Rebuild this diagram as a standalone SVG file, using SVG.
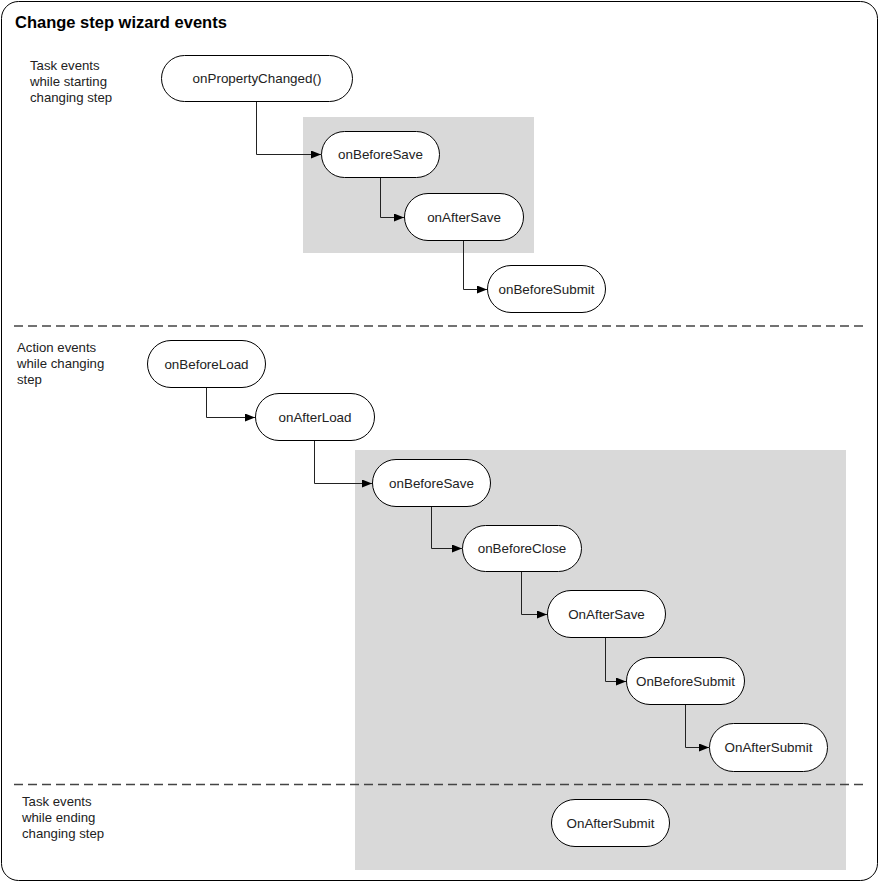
<svg xmlns="http://www.w3.org/2000/svg" width="879" height="882" viewBox="0 0 879 882">
<defs>
<marker id="arr" markerWidth="10" markerHeight="8" refX="10" refY="4" orient="auto" markerUnits="userSpaceOnUse">
<path d="M0,0 L10,4 L0,8 z" fill="#000"/>
</marker>
<style>
.node rect{fill:#fff;stroke:#000;stroke-width:1}
.node text{font-family:"Liberation Sans",Arial,sans-serif;font-size:13.4px;fill:#222;text-anchor:middle}
.lbl{font-family:"Liberation Sans",Arial,sans-serif;font-size:13.2px;fill:#222}
.title{font-family:"Liberation Sans",Arial,sans-serif;font-size:16.5px;font-weight:bold;fill:#000}
.conn path{fill:none;stroke:#222;stroke-width:1;marker-end:url(#arr)}
.dash{stroke:#444;stroke-width:1.5;stroke-dasharray:9,5;fill:none}
.group{fill:#d9d9d9}
</style>
</defs>
<rect x="0" y="0" width="879" height="882" fill="#fff"/>
<rect id="frame" x="1.5" y="1.5" width="876" height="879" rx="17" ry="17" fill="#fff" stroke="#000" stroke-width="1"/>
<text class="title" x="15" y="28">Change step wizard events</text>

<rect id="group1" class="group" x="303" y="117" width="231" height="136"/>
<rect id="group2" class="group" x="355" y="450" width="491" height="420"/>

<line class="dash" x1="14" y1="326" x2="866" y2="326"/>
<line class="dash" x1="14" y1="784.5" x2="866" y2="784.5"/>

<text class="lbl" x="30" y="70">Task events</text>
<text class="lbl" x="30" y="86">while starting</text>
<text class="lbl" x="30" y="102">changing step</text>

<text class="lbl" x="17" y="352">Action events</text>
<text class="lbl" x="17" y="368">while changing</text>
<text class="lbl" x="17" y="384">step</text>

<text class="lbl" x="22" y="806">Task events</text>
<text class="lbl" x="22" y="822">while ending</text>
<text class="lbl" x="22" y="838">changing step</text>

<g id="connectors" class="conn">
<path d="M256.5,102 V154.5 H321"/>
<path d="M380.5,178 V217.5 H404"/>
<path d="M463.5,241 V289.5 H487"/>
<path d="M206.5,388 V417.5 H255"/>
<path d="M314.5,441 V483.5 H372"/>
<path d="M431.5,507 V548.5 H462"/>
<path d="M521.5,572 V614.5 H547"/>
<path d="M605.5,638 V681.5 H626"/>
<path d="M685.5,705 V747.5 H709"/>
</g>

<g id="n1" class="node"><rect x="161.5" y="55.5" width="191" height="46" rx="23"/><text x="257" y="83">onPropertyChanged()</text></g>
<g id="n2" class="node"><rect x="321.5" y="131.5" width="118" height="46" rx="23"/><text x="380.5" y="159">onBeforeSave</text></g>
<g id="n3" class="node"><rect x="404.5" y="193.5" width="119" height="47" rx="23.5"/><text x="464" y="221.5">onAfterSave</text></g>
<g id="n4" class="node"><rect x="487.5" y="265.5" width="118" height="47" rx="23.5"/><text x="546.5" y="293.5">onBeforeSubmit</text></g>
<g id="n5" class="node"><rect x="147.5" y="340.5" width="118" height="47" rx="23.5"/><text x="206.5" y="368.5">onBeforeLoad</text></g>
<g id="n6" class="node"><rect x="255.5" y="393.5" width="119" height="47" rx="23.5"/><text x="315" y="421.5">onAfterLoad</text></g>
<g id="n7" class="node"><rect x="372.5" y="459.5" width="118" height="47" rx="23.5"/><text x="431.5" y="487.5">onBeforeSave</text></g>
<g id="n8" class="node"><rect x="462.5" y="525.5" width="119" height="46" rx="23"/><text x="522" y="553">onBeforeClose</text></g>
<g id="n9" class="node"><rect x="547.5" y="590.5" width="118" height="47" rx="23.5"/><text x="606.5" y="618.5">OnAfterSave</text></g>
<g id="n10" class="node"><rect x="626.5" y="657.5" width="118" height="47" rx="23.5"/><text x="685.5" y="685.5">OnBeforeSubmit</text></g>
<g id="n11" class="node"><rect x="709.5" y="723.5" width="118" height="48" rx="24"/><text x="768.5" y="752">OnAfterSubmit</text></g>
<g id="n12" class="node"><rect x="551.5" y="799.5" width="118" height="47" rx="23.5"/><text x="610.5" y="827.5">OnAfterSubmit</text></g>
</svg>
